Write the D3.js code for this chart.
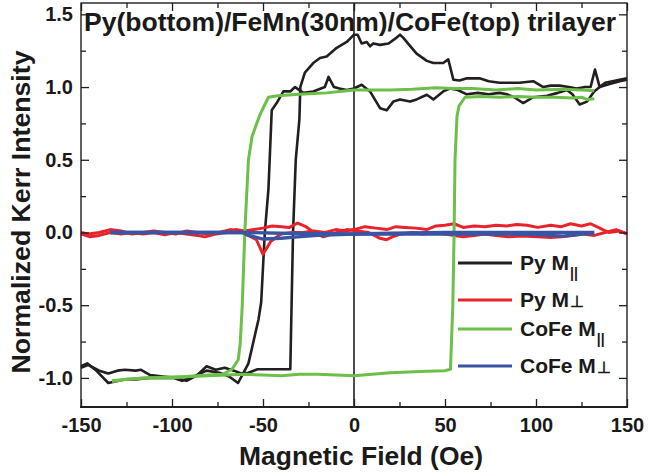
<!DOCTYPE html>
<html>
<head>
<meta charset="utf-8">
<script src="https://cdn.jsdelivr.net/npm/d3@7/dist/d3.min.js"></script>
<style>
  body { margin: 0; background: #fff; }
  svg { display: block; }
  text { font-family: "Liberation Sans", Arial, Helvetica, sans-serif; font-weight: bold; fill: #1a1a1a; }
</style>
</head>
<body>
<svg id="chart" width="648" height="472"></svg>
<script>
// tick labels
const FIELD_TICKS = [-150, -100, -50, 0, 50, 100, 150]
const FIELD_MINOR = [-125, -75, -25, 25, 75, 125]
const KERR_TICKS = [-1.0, -0.5, 0.0, 0.5, 1.0, 1.5]
const KERR_MINOR = [-0.75, -0.25, 0.25, 0.75, 1.25]

const TITLE = 'Py(bottom)/FeMn(30nm)/CoFe(top) trilayer'
const X_LABEL = 'Magnetic Field (Oe)'
const Y_LABEL = 'Normalized Kerr Intensity'

// series: [field (Oe), normalized kerr]
// Py M|| , branch coming up from negative field
const pyParUp = [[-150,-0.93],[-146,-0.91],[-140,-0.95],[-135,-0.97],[-130,-0.95],[-126,-0.944],[-120,-0.95],[-117,-0.944],[-112,-0.98],[-105,-0.99],[-98,-1.0],[-92,-1.02],[-86,-0.98],[-81,-0.92],[-76,-0.944],[-71,-0.93],[-66,-0.95],[-62,-0.97],[-58,-0.965],[-53,-0.94],[-47,-0.94],[-40,-0.94],[-35,-0.94],[-34.3,-0.5],[-33.5,0],[-32,0.5],[-30,0.78],[-29.5,1.0],[-27,1.1],[-22.4,1.165],[-18.7,1.2],[-15,1.21],[-9.5,1.27],[-4,1.31],[0,1.36],[2,1.36],[4.2,1.30],[7,1.31],[8.8,1.28],[10.6,1.30],[14.3,1.29],[19,1.30],[23.4,1.34],[25.3,1.36],[27,1.34],[31,1.28],[34.4,1.23],[40,1.18],[43.6,1.165],[49,1.165],[51.8,1.19],[54.6,1.05],[58,1.045],[62,1.06],[69,1.06],[74,1.04],[80,1.03],[86,1.03],[91,1.03],[98.5,1.04],[104,1.0],[108,1.01],[113,1.01],[118,1.0],[122.4,0.99],[127,1.0],[130,1.0],[132.4,1.12],[135,1.0],[138,1.03],[142,1.04],[146,1.05],[150,1.06]]
// Py M|| , branch coming down from positive field
const pyParDown = [[150,1.05],[146,1.04],[140,1.02],[135,1.0],[132,0.97],[128,0.9],[124,0.88],[120,0.95],[117,0.98],[112,0.96],[106,0.94],[98.5,0.93],[93,0.89],[88,0.93],[84,0.95],[80,0.96],[74,0.95],[68,0.96],[62,0.95],[57,0.98],[52.7,0.99],[49,0.97],[43.6,0.915],[40,0.947],[34.4,0.915],[30.8,0.90],[25.3,0.915],[21.6,0.90],[18,0.84],[14.3,0.855],[8.8,0.97],[4.2,1.016],[0,0.99],[-4,0.98],[-8,0.99],[-11,1.0],[-14,1.07],[-16,1.0],[-22.4,0.97],[-27.8,0.96],[-32.4,1.0],[-35,0.97],[-38.8,0.97],[-42.5,0.89],[-45.2,0.84],[-46,0.6],[-47,0.3],[-49,0.0],[-51,-0.48],[-52.5,-0.6],[-55.8,-0.78],[-58,-0.9],[-60.3,-0.955],[-63.7,-1.035],[-68.6,-0.99],[-74,-0.965],[-81,-0.95],[-88,-0.99],[-94.5,-1.02],[-99,-1.0],[-105,-1.0],[-112,-1.0],[-120,-1.01],[-126,-1.01],[-135,-1.035],[-142,-0.945],[-146.6,-0.9],[-150,-0.92]]

// Py M-perp
const pyPerpDown = [[150,-0.01],[146,0.01],[140,0.0],[135,0.03],[130,0.06],[125,0.045],[119,0.06],[114,0.04],[108,0.05],[101,0.035],[95,0.05],[89.5,0.055],[84,0.045],[78,0.05],[72,0.04],[66,0.045],[60,0.035],[55,0.06],[50,0.05],[45,0.045],[40,0.02],[34,0.03],[28,0.035],[23,0.04],[18,0.02],[12,0.03],[6,0.04],[0,0.02],[-5,0.01],[-10,0.02],[-16,0.0],[-22,0.01],[-28,0.0],[-34,0.0],[-40,-0.01],[-45.7,-0.06],[-50,-0.15],[-53.6,-0.05],[-58,-0.02],[-63,0.01],[-68,0.02],[-74,0.0],[-80,-0.01],[-86,0.0],[-92,0.01],[-98,-0.01],[-104,0.0],[-110,0.01],[-116,0.0],[-122,-0.01],[-128,0.01],[-134,0.02],[-140,0.0],[-146,-0.01],[-150,0.0]]
const pyPerpUp = [[-150,-0.01],[-145,-0.03],[-140,-0.02],[-134,0.0],[-128,-0.01],[-122,0.0],[-116,-0.01],[-110,0.0],[-104,-0.015],[-98,0.0],[-92,-0.01],[-86,-0.02],[-82,-0.03],[-76,-0.01],[-70,0.0],[-65,0.02],[-60,0.01],[-55,0.02],[-50,0.03],[-45,0.045],[-40,0.04],[-35.5,0.035],[-31,0.065],[-26.4,0.04],[-22,0.0],[-16.8,-0.03],[-12,-0.01],[-4,0.02],[2,0.01],[8,0.0],[14.3,-0.04],[17.9,-0.05],[21,-0.03],[26,-0.01],[32,0.0],[38,-0.01],[44,0.0],[50,-0.01],[55,-0.02],[60,-0.03],[66,-0.02],[72,-0.01],[78,-0.02],[85,-0.03],[92,-0.025],[101,-0.03],[108,-0.035],[114,-0.03],[120,-0.02],[126,-0.01],[132,-0.02],[138,0.0],[144,0.02],[150,-0.01]]

// CoFe M||
const cofeParUp = [[-133,-1.025],[-125,-1.01],[-115,-1.0],[-100,-1.0],[-90,-0.99],[-80,-0.985],[-70,-0.98],[-60,-0.975],[-50,-0.98],[-40,-0.985],[-30,-0.975],[-20,-0.975],[-10,-0.98],[0,-0.985],[10,-0.975],[20,-0.965],[30,-0.96],[40,-0.955],[50,-0.95],[53,-0.94],[54.3,-0.5],[55,0],[55.5,0.5],[56.6,0.8],[57.7,0.87],[61,0.93],[70,0.935],[80,0.93],[90,0.935],[100,0.93],[110,0.93],[120,0.925],[125,0.93],[128,0.915],[132,0.92]]
const cofeParDown = [[132,0.975],[125,0.98],[115,0.985],[100,0.98],[90,0.99],[78,0.98],[65,0.99],[55,0.99],[45,0.995],[32,0.985],[20,0.98],[10,0.98],[0,0.98],[-8,0.97],[-15,0.96],[-22,0.955],[-30,0.95],[-36,0.945],[-42,0.94],[-47,0.93],[-49,0.88],[-52,0.8],[-54,0.73],[-56,0.66],[-58,0.5],[-60,0],[-61.4,-0.5],[-62.5,-0.76],[-63.6,-0.875],[-67,-0.94],[-72,-0.975],[-80,-0.98],[-92,-0.99],[-105,-0.995],[-115,-1.0],[-125,-1.01],[-133,-1.02]]

// CoFe M-perp
const cofePerpDown = [[132,0.0],[110,0.0],[80,0.0],[50,0.0],[20,-0.005],[0,-0.01],[-20,-0.02],[-31,-0.03],[-40,-0.04],[-50,-0.045],[-58,-0.02],[-61,0.0],[-80,0.0],[-100,0.0],[-120,0.0],[-134,0.0]]
const cofePerpUp = [[-134,0.0],[-100,0.0],[-60,0.0],[-40,-0.005],[0,-0.01],[40,-0.01],[80,-0.01],[100,-0.015],[115,-0.025],[125,-0.01],[132,-0.005]]

const LEGEND_NAMES = ['Py M', 'Py M', 'CoFe M', 'CoFe M']
const LEGEND_MARKS = ['||', '\u22a5', '||', '\u22a5']

const COLORS = { black: '#231f20', red: '#e8232b', green: '#6cbf48', blue: '#3a54a4' }

const svg = d3.select('#chart')
const x = d3.scaleLinear().domain([-150, 150]).range([81, 627])
const y = d3.scaleLinear().domain([-1.2, 1.578]).range([407, 3])

// zero field line
svg.append('line')
    .attr('x1', x(0)).attr('x2', x(0))
    .attr('y1', y.range()[1]).attr('y2', y.range()[0])
    .attr('stroke', COLORS.black).attr('stroke-width', 1.6)

const line = d3.line().x(d => x(d[0])).y(d => y(d[1]))

const series = [
    [pyParUp, COLORS.black, 2.6],
    [pyParDown, COLORS.black, 2.6],
    [pyPerpDown, COLORS.red, 3],
    [pyPerpUp, COLORS.red, 3],
    [cofeParUp, COLORS.green, 3],
    [cofeParDown, COLORS.green, 3],
    [cofePerpDown, COLORS.blue, 3.4],
    [cofePerpUp, COLORS.blue, 3.4],
]

svg.append('g')
    .selectAll('path')
    .data(series)
    .join('path')
    .attr('d', d => line(d[0]))
    .attr('stroke', d => d[1])
    .attr('stroke-width', d => d[2])
    .attr('stroke-linejoin', 'round')
    .attr('fill', 'none')

// axes, ticks point inward
const axisStyle = g => {
    g.select('.domain').remove()
    g.selectAll('line').attr('stroke', COLORS.black).attr('stroke-width', 1.3)
    g.selectAll('text').attr('font-size', 20).attr('fill', '#1a1a1a')
        .attr('font-family', '"Liberation Sans", Arial, sans-serif').attr('font-weight', 'bold')
}
const fmtX = d => d < 0 ? '-' + Math.abs(d) : String(d)
const fmtY = d => d < 0 ? '-' + Math.abs(d).toFixed(1) : d.toFixed(1)

svg.append('g').attr('transform', 'translate(0,407)')
    .call(d3.axisBottom(x).tickValues(FIELD_TICKS).tickSize(-8).tickPadding(11).tickFormat(fmtX))
    .call(axisStyle)
svg.append('g').attr('transform', 'translate(0,407)')
    .call(d3.axisBottom(x).tickValues(FIELD_MINOR).tickSize(-5).tickFormat(''))
    .call(axisStyle)
svg.append('g').attr('transform', 'translate(0,3)')
    .call(d3.axisTop(x).tickValues(FIELD_TICKS).tickSize(-8).tickFormat(''))
    .call(axisStyle)
svg.append('g').attr('transform', 'translate(0,3)')
    .call(d3.axisTop(x).tickValues(FIELD_MINOR).tickSize(-5).tickFormat(''))
    .call(axisStyle)

svg.append('g').attr('transform', 'translate(81,0)')
    .call(d3.axisLeft(y).tickValues(KERR_TICKS).tickSize(-8).tickPadding(8).tickFormat(fmtY))
    .call(axisStyle)
svg.append('g').attr('transform', 'translate(81,0)')
    .call(d3.axisLeft(y).tickValues(KERR_MINOR).tickSize(-5).tickFormat(''))
    .call(axisStyle)
svg.append('g').attr('transform', 'translate(627,0)')
    .call(d3.axisRight(y).tickValues(KERR_TICKS).tickSize(-8).tickFormat(''))
    .call(axisStyle)
svg.append('g').attr('transform', 'translate(627,0)')
    .call(d3.axisRight(y).tickValues(KERR_MINOR).tickSize(-5).tickFormat(''))
    .call(axisStyle)

// frame
svg.append('rect')
    .attr('x', 81).attr('y', 3).attr('width', 546).attr('height', 404)
    .attr('fill', 'none').attr('stroke', COLORS.black).attr('stroke-width', 1.4)
svg.append('line')
    .attr('x1', 80).attr('x2', 628).attr('y1', 407).attr('y2', 407)
    .attr('stroke', COLORS.black).attr('stroke-width', 2.2)

// title + axis labels
svg.append('text')
    .attr('x', 84).attr('y', 31)
    .attr('font-size', 25)
    .attr('textLength', 532).attr('lengthAdjust', 'spacingAndGlyphs')
    .text(TITLE)

svg.append('text')
    .attr('x', 361).attr('y', 465)
    .attr('text-anchor', 'middle')
    .attr('font-size', 26)
    .attr('textLength', 244).attr('lengthAdjust', 'spacingAndGlyphs')
    .text(X_LABEL)

svg.append('text')
    .attr('transform', 'translate(30,212) rotate(-90)')
    .attr('text-anchor', 'middle')
    .attr('font-size', 26)
    .attr('textLength', 323).attr('lengthAdjust', 'spacingAndGlyphs')
    .text(Y_LABEL)

// legend
const legendColors = [COLORS.black, COLORS.red, COLORS.green, COLORS.blue]
const legendY = [263, 300, 329, 366]
const legend = svg.append('g')
    .selectAll('g')
    .data(LEGEND_NAMES)
    .join('g')
    .attr('transform', (d, i) => `translate(458,${legendY[i]})`)

legend.append('line')
    .attr('x1', 0).attr('x2', 54)
    .attr('stroke', (d, i) => legendColors[i])
    .attr('stroke-width', 3)

const lt = legend.append('text')
    .attr('x', 62).attr('y', 7)
    .attr('font-size', 21)
lt.append('tspan').text(d => d)
lt.append('tspan')
    .attr('font-size', (d, i) => LEGEND_MARKS[i] === '||' ? 14 : 16)
    .attr('dy', (d, i) => LEGEND_MARKS[i] === '||' ? 8 : 0)
    .attr('dx', 1)
    .text((d, i) => LEGEND_MARKS[i])
</script>
</body>
</html>
